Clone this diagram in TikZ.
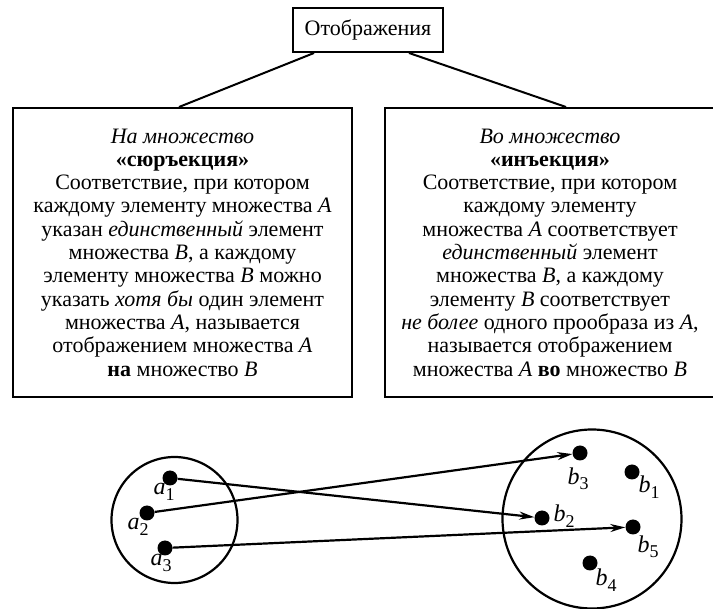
\documentclass[tikz,border=0pt]{standalone}
\usepackage{fontspec}
\setmainfont{Liberation Serif}
\usetikzlibrary{arrows.meta,calc}
\newcommand\elab[2]{\textit{#1}\raisebox{-0.5ex}{\fontsize{18}{18}\selectfont #2}}
\begin{document}
\begin{tikzpicture}[x=1pt,y=-1pt,
  box/.style={draw,line width=2pt,align=center,inner sep=0pt},
  txt/.style={font=\fontsize{22}{23.3}\selectfont},
  dot/.style={circle,fill,inner sep=0pt,minimum size=15pt},
  lab/.style={font=\fontsize{24}{24}\selectfont,inner sep=0pt},
  arr/.style={line width=2.2pt,-{Stealth[length=15pt,width=8pt]}},
  conn/.style={line width=2pt},
  setc/.style={line width=2.2pt}]
\useasboundingbox (0,0) rectangle (713,609);
\node[box,txt,minimum width=150pt,minimum height=44pt] (top) at (368,30) {Отображения};
\node[box,txt,minimum width=339pt,minimum height=289pt] (L) at (182.5,252.5) {%
\textit{На множество}\\
\textbf{«сюръекция»}\\
Соответствие, при котором\\
каждому элементу множества \textit{A}\\
указан \textit{единственный} элемент\\
множества \textit{B}, а каждому\\
элементу множества \textit{B} можно\\
указать \textit{хотя бы} один элемент\\
множества \textit{A}, называется\\
отображением множества \textit{A}\\
\textbf{на} множество \textit{B}};
\node[box,txt,minimum width=330pt,minimum height=289pt] (R) at (550,252.5) {%
\textit{Во множество}\\
\textbf{«инъекция»}\\
Соответствие, при котором\\
каждому элементу\\
множества \textit{A} соответствует\\
\textit{единственный} элемент\\
множества \textit{B}, а каждому\\
элементу \textit{B} соответствует\\
\textit{не более} одного прообраза из \textit{A},\\
называется отображением\\
множества \textit{A} \textbf{во} множество \textit{B}};
\draw[conn] ([xshift=22pt]top.south west) -- ([xshift=167pt]L.north west);
\draw[conn] ([xshift=117pt]top.south west) -- ([xshift=182pt]R.north west);
% sets
\node[setc,draw,circle,minimum size=126pt,inner sep=0pt] (SA) at (174.5,520) {};
\node[setc,draw,circle,minimum size=179pt,inner sep=0pt] (SB) at (592,519) {};
\node[dot] (a1) at (170,478) {};
\node[dot] (a2) at (147,513) {};
\node[dot] (a3) at (165,548) {};
\node[dot] (b3) at (580,453) {};
\node[dot] (b1) at (632,472) {};
\node[dot] (b2) at (542,518) {};
\node[dot] (b5) at (633,527) {};
\node[dot] (b4) at (590,563) {};
\node[lab] (la1) at (164,492) {\elab{a}{1}};
\node[lab] (la2) at (138,527) {\elab{a}{2}};
\node[lab] (la3) at (161,563) {\elab{a}{3}};
\node[lab] (lb3) at (578,479) {\elab{b}{3}};
\node[lab] (lb1) at (649,487) {\elab{b}{1}};
\node[lab] (lb2) at (564,516) {\elab{b}{2}};
\node[lab] (lb5) at (648,547) {\elab{b}{5}};
\node[lab] (lb4) at (606,580) {\elab{b}{4}};
\draw[arr] (a1) -- (b2);
\draw[arr] (a2) -- (b3);
\draw[arr] (a3) -- (b5);
\end{tikzpicture}
\end{document}
